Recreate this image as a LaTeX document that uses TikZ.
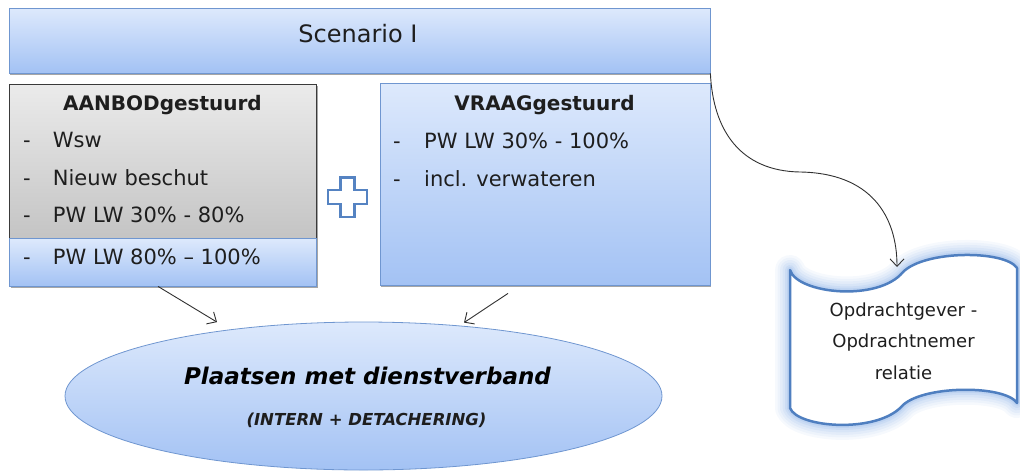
\documentclass[tikz,border=0pt]{standalone}
\usepackage{fontspec}
\setmainfont{DejaVu Sans}[ItalicFont={DejaVu Sans Oblique},BoldFont={DejaVu Sans Bold},BoldItalicFont={DejaVu Sans Bold Oblique}]
\usetikzlibrary{shapes.geometric,arrows.meta,calc,shadows}
\definecolor{btop}{HTML}{DDE9FC}
\definecolor{bbot}{HTML}{A3C2F4}
\definecolor{bline}{HTML}{6F96D0}
\definecolor{gtop}{HTML}{EBEBEB}
\definecolor{gbot}{HTML}{C4C4C4}
\definecolor{gline}{HTML}{3A3A3A}
\definecolor{txt}{HTML}{1E1E1E}
\definecolor{arrc}{HTML}{303030}
\definecolor{docline}{HTML}{4F7FC0}
\definecolor{glowc}{HTML}{86AEE6}
\definecolor{plusc}{HTML}{5583C2}
\begin{document}
\begin{tikzpicture}[x=1pt,y=-1pt,
  box/.style={draw=bline,line width=0.8pt,top color=btop,bottom color=bbot,inner sep=0pt,
    drop shadow={shadow xshift=1.2pt,shadow yshift=-1.5pt,opacity=.35,fill=black}},
  gbox/.style={box,draw=gline,top color=gtop,bottom color=gbot},
  item/.style={anchor=base west,inner sep=0pt,font=\fontsize{21}{25}\selectfont,text=txt},
  ttl/.style={anchor=base,inner sep=0pt,font=\bfseries\fontsize{20}{24}\selectfont,text=txt},
  arr/.style={draw=arrc,line width=0.9pt,-{Straight Barb[length=7.5pt,width=14pt]}},
  ell/.style={ellipse,draw=bline,line width=0.8pt,top color=btop,bottom color=bbot,inner sep=0pt},
  doctext/.style={align=center,inner sep=0pt,text=txt,font=\fontsize{18}{31.5}\selectfont}
]
\path[use as bounding box] (0,0) rectangle (1020,472);

% Scenario box
\node[box,minimum width=701pt,minimum height=65pt] (scen) at (359.5,40.5) {};
\node[anchor=base,inner sep=0pt,font=\fontsize{24}{28}\selectfont,text=txt] (scenT) at (358,42.5) {Scenario I};

% AANBOD box
\node[gbox,minimum width=307pt,minimum height=154.5pt] (aanbodTop) at (163,161.25) {};
\node[box,minimum width=307pt,minimum height=47.5pt] (aanbodBot) at (163,262.25) {};
\node[ttl] (aanbodT) at (162.5,110.7) {AANBODgestuurd};
\node[item] (a1) at (23,147.7) {\makebox[29.7pt][l]{-}Wsw};
\node[item] (a2) at (23,185) {\makebox[29.7pt][l]{-}Nieuw beschut};
\node[item] (a3) at (23,222.3) {\makebox[29.7pt][l]{-}PW LW 30\% - 80\%};
\node[item] (a4) at (23,264) {\makebox[29.7pt][l]{-}PW LW 80\% – 100\%};

% plus sign
\draw[plusc,line width=2.4pt,fill=white,line join=miter]
  (340.5,177.5) -- (354.5,177.5) -- (354.5,190) -- (367,190) -- (367,204) -- (354.5,204)
  -- (354.5,217) -- (340.5,217) -- (340.5,204) -- (328,204) -- (328,190) -- (340.5,190) -- cycle;

% VRAAG box
\node[box,minimum width=330pt,minimum height=202pt] (vraag) at (545,184.5) {};
\node[ttl] (vraagT) at (544.5,110.7) {VRAAGgestuurd};
\node[item] (v1) at (393,148) {\makebox[31pt][l]{-}PW LW 30\% - 100\%};
\node[item] (v2) at (393,186) {\makebox[31pt][l]{-}incl. verwateren};

% Ellipse
\node[ell,minimum width=597pt,minimum height=148pt] (ell) at (363.5,396) {};
\node[anchor=base,inner sep=0pt,font=\bfseries\itshape\fontsize{23}{27}\selectfont,text=black] (ellT1) at (367.5,384) {Plaatsen met dienstverband};
\node[anchor=base,inner sep=0pt,font=\bfseries\itshape\fontsize{16.5}{20}\selectfont,text=txt] (ellT2) at (366.5,425) {(INTERN + DETACHERING)};

% Document shape (wavy tape) with soft glow
\coordinate (docC) at (903.5,338);
\begin{scope}[shift={(docC)}]
  \foreach \w/\o in {30/.07,25/.08,20/.1,15/.12,10/.15,6/.2} {
    \draw[glowc,line width=\w pt,opacity=\o,line join=round]
      (-113.5,-68) .. controls (-106,-44) and (-25,-36) .. (-0.5,-66)
      .. controls (21.5,-88) and (101.5,-88) .. (113.5,-70) -- (113.5,65)
      .. controls (101.5,47) and (21.5,47) .. (-0.5,67)
      .. controls (-25,96) and (-106,90) .. (-113.5,70) -- cycle;
  }
  \draw[docline,line width=2.5pt,fill=white,line join=round]
      (-113.5,-68) .. controls (-106,-44) and (-25,-36) .. (-0.5,-66)
      .. controls (21.5,-88) and (101.5,-88) .. (113.5,-70) -- (113.5,65)
      .. controls (101.5,47) and (21.5,47) .. (-0.5,67)
      .. controls (-25,96) and (-106,90) .. (-113.5,70) -- cycle;
\end{scope}
\node[doctext] (doc) at (903.5,341) {Opdrachtgever -\\Opdrachtnemer\\relatie};

% connectors
\draw[arr] ($(aanbodBot.south)+(-5,0)$) -- ($(ell.north)+(-146.5,0.5)$);
\draw[arr] ($(vraag.south)+(-37,7.5)$) -- ($(ell.north)+(100.5,1)$);
\draw[arr] (scen.south east) .. controls (713,130) and (740,171) .. (800,172)
  .. controls (870,173) and (897,215) .. ($(docC)+(-6.5,-71)$);
\end{tikzpicture}
\end{document}
